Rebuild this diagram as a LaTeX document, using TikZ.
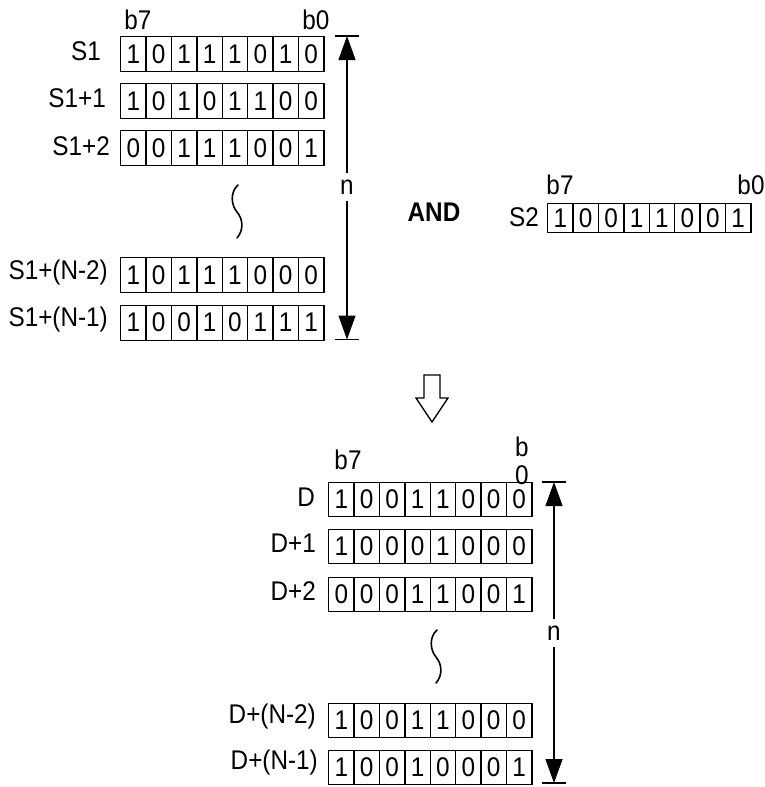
\documentclass[tikz,border=0pt]{standalone}
\usepackage{fontspec}
\setmainfont{Liberation Sans}[FakeStretch=0.9]
\usetikzlibrary{arrows.meta}
\tikzset{
  cell/.style={draw, line width=1.3pt, minimum width=25.4pt, inner sep=0pt, anchor=north west},
  lbl/.style={inner sep=0pt, anchor=east},
  txt/.style={inner sep=0pt},
  arr/.style={line width=1.3pt, -{Triangle[length=24pt,width=17pt]}},
  bar/.style={line width=1.3pt},
  squig/.style={line width=1.6pt, line cap=round},
}
\newcommand\regrow[5]{% name, left x, top y, height, bits
  \foreach \b [count=\i] in {#5} {
    \node[cell, minimum height=#4] (#1-\i) at ({#2+(\i-1)*25.4}, #3) {\b};
  }}
\begin{document}
\begin{tikzpicture}[x=1pt, y=-1pt, font=\fontsize{27}{28}\selectfont]
\useasboundingbox (0,0) rectangle (765,787);
% top block
\node[txt] (tb7) at (138,20) {b7};
\node[txt] (tb0) at (316,20) {b0};
\regrow{sa}{120}{36}{35pt}{1,0,1,1,1,0,1,0}
\regrow{sb}{120}{83}{35pt}{1,0,1,0,1,1,0,0}
\regrow{sc}{120}{130}{35pt}{0,0,1,1,1,0,0,1}
\regrow{sd}{120}{257}{35pt}{1,0,1,1,1,0,0,0}
\regrow{se}{120}{304.5}{35pt}{1,0,0,1,0,1,1,1}
\node[lbl] (la) at (101,51) {S1};
\node[lbl] (lb) at (106,98) {S1+1};
\node[lbl] (lc) at (110,146) {S1+2};
\node[lbl] (ld) at (108,273) {S1+(N-2)};
\node[lbl] (le) at (108,320) {S1+(N-1)};
\draw[squig] (238,185) .. controls (230,192) and (231,205) .. (237,212) .. controls (243,219) and (244,230) .. (237,238);
% top n arrow
\coordinate (ttop) at (347,36);
\coordinate (tbot) at (347,339.5);
\node[txt, inner sep=7pt] (tn) at (347,187) {n};
\draw[bar] ([xshift=-12pt]ttop) -- ([xshift=12pt]ttop);
\draw[bar] ([xshift=-12pt]tbot) -- ([xshift=12pt]tbot);
\draw[arr] (tn.north) -- (ttop);
\draw[arr] (tn.south) -- (tbot);
% AND and S2
\node[txt, font=\fontsize{27}{28}\selectfont\bfseries] (and) at (434,212) {AND};
\node[txt] (s2b7) at (560,185) {b7};
\node[txt] (s2b0) at (751,185) {b0};
\regrow{s2}{547}{203}{29pt}{1,0,0,1,1,0,0,1}
\node[lbl] (ls2) at (539,217) {S2};
% hollow arrow
\draw[line width=1.3pt, line join=miter] (424,375) -- (440,375) -- (440,398) -- (448,398) -- (432,422) -- (416,398) -- (424,398) -- cycle;
% bottom block
\node[txt] (bb7) at (348,460) {b7};
\node[txt, align=center] (bb0) at (522,461) {b\\0};
\regrow{da}{328}{482}{34pt}{1,0,0,1,1,0,0,0}
\regrow{db}{328}{529}{34pt}{1,0,0,0,1,0,0,0}
\regrow{dc}{328}{577}{34pt}{0,0,0,1,1,0,0,1}
\regrow{dd}{328}{703}{34pt}{1,0,0,1,1,0,0,0}
\regrow{de}{328}{750}{34pt}{1,0,0,1,0,0,0,1}
\node[lbl] (lda) at (315,497) {D};
\node[lbl] (ldb) at (316,543) {D+1};
\node[lbl] (ldc) at (316,591) {D+2};
\node[lbl] (ldd) at (316,717) {D+(N-2)};
\node[lbl] (lde) at (318,763) {D+(N-1)};
\begin{scope}[shift={(199,445)}]
\draw[squig] (238,185) .. controls (230,192) and (231,205) .. (237,212) .. controls (243,219) and (244,230) .. (237,238);
\end{scope}
% bottom n arrow
\coordinate (btop) at (554,482);
\coordinate (bbot) at (554,783);
\node[txt, inner sep=7pt] (bn) at (554,633) {n};
\draw[bar] ([xshift=-12pt]btop) -- ([xshift=12pt]btop);
\draw[bar] ([xshift=-12pt]bbot) -- ([xshift=12pt]bbot);
\draw[arr] (bn.north) -- (btop);
\draw[arr] (bn.south) -- (bbot);
\end{tikzpicture}
\end{document}
